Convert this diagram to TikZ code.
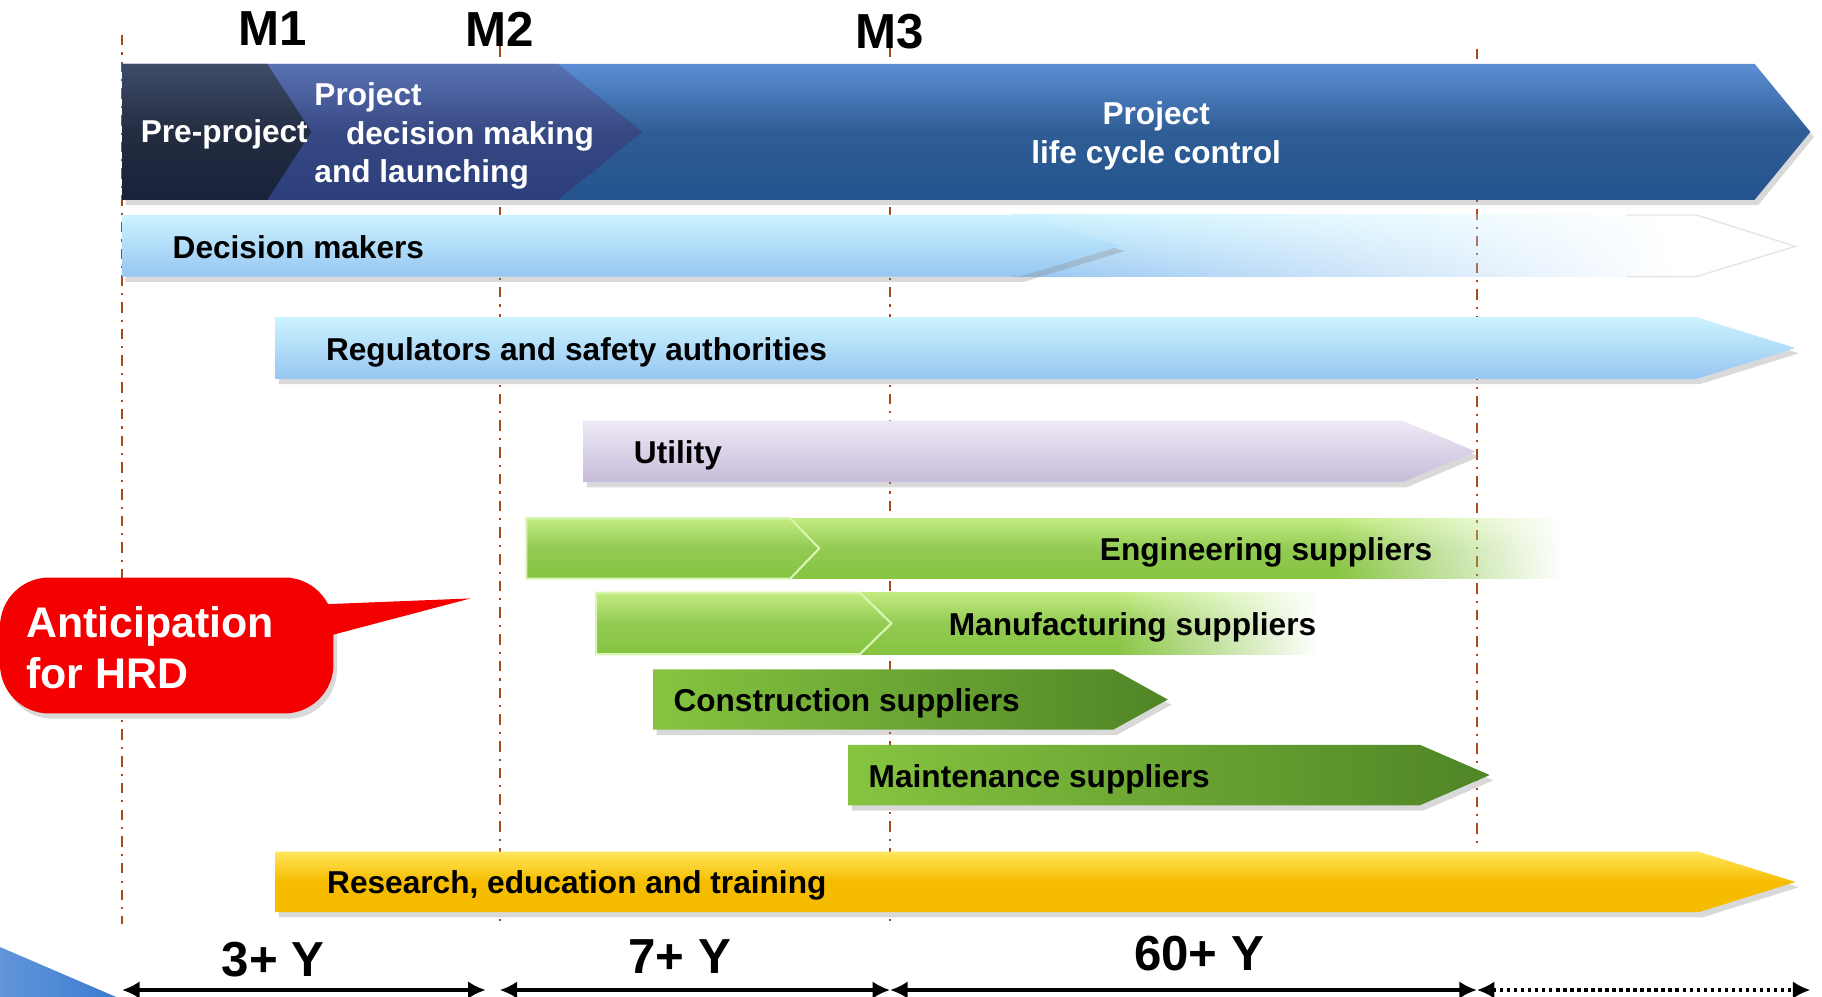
\documentclass[tikz,border=0pt]{standalone}
\usepackage{fontspec}
\setmainfont{Liberation Sans}
\usetikzlibrary{shadows,fadings,arrows.meta}
\definecolor{lifeblue}{HTML}{24548F}
\definecolor{lifetop}{HTML}{5B8ED4}
\definecolor{launchblue}{HTML}{2C3F7C}
\definecolor{launchtop}{HTML}{5A72B4}
\definecolor{prenavy}{HTML}{182238}
\definecolor{pretop}{HTML}{3E4C68}
\definecolor{skyblue}{HTML}{96C6F2}
\definecolor{skytop}{HTML}{CDF3FF}
\definecolor{lilac}{HTML}{C7BCDA}
\definecolor{lilactop}{HTML}{EEE9F6}
\definecolor{leaf}{HTML}{86C440}
\definecolor{leaftop}{HTML}{C2EC80}
\definecolor{forest}{HTML}{4F8526}
\definecolor{amber}{HTML}{F6BC00}
\definecolor{ambertop}{HTML}{FFE65A}
\definecolor{alarm}{HTML}{F40000}
\definecolor{rust}{HTML}{A84A20}
\definecolor{cornerblue}{HTML}{3B7BD0}
\tikzset{bar/.style = {drop shadow={opacity=0.3, shadow xshift=1pt, shadow yshift=-1.5pt}},
         skybar/.style = {bar, top color=skytop, bottom color=skyblue},
         leafbar/.style = {top color=leaftop, bottom color=leaf, middle color=leaf!90!white},
         darkleaf/.style = {bar, left color=leaf, right color=forest},
         mline/.style = {rust, line width=0.6pt, dash dot},
         milestone/.style = {font=\fontsize{14}{16}\selectfont\bfseries},
         barlabel/.style = {anchor=west, inner sep=0pt, font=\fontsize{9}{11}\selectfont\bfseries},
         phaselabel/.style = {text=white, font=\fontsize{9}{10.9}\selectfont\bfseries},
         span/.style = {line width=1pt, {Latex[length=5pt,width=5pt]}-{Latex[length=5pt,width=5pt]}}}
\newcommand{\chevronbar}[6]{\shade[#1] (#2,#5) -- (#3,#5) -- (#4,{(#5+#6)/2}) -- (#3,#6) -- (#2,#6) -- cycle;}

\begin{document}
\begin{tikzpicture}[x=0.1162mm, y=-0.1162mm]
    \useasboundingbox (0,0) rectangle (1568,858);

    % milestone lines
    \coordinate (l1t) at (105,30);   \coordinate (l1b) at (105,795);
    \coordinate (l2t) at (430,40);   \coordinate (l2b) at (430,795);
    \coordinate (l3t) at (766,40);   \coordinate (l3b) at (766,795);
    \coordinate (l4t) at (1271,42);  \coordinate (l4b) at (1271,730);
    \draw[mline](l1t)--(l1b);
    \draw[mline](l2t)--(l2b);
    \draw[mline](l3t)--(l3b);
    \draw[mline](l4t)--(l4b);

    \node[milestone] (m1) at (235,25) {M1};
    \node[milestone] (m2) at (430,25) {M2};
    \node[milestone] (m3) at (766,27) {M3};

    % phases
    \chevronbar{bar, top color=lifetop, bottom color=lifeblue, middle color=lifeblue!95!white}{105}{1510}{1558}{55}{172}
    \chevronbar{top color=launchtop, bottom color=launchblue, middle color=launchblue!95!white}{105}{480}{553}{55}{172}
    \chevronbar{top color=pretop, bottom color=prenavy, middle color=prenavy!95!white}{105}{230}{268}{55}{172}
    \node[phaselabel] (pre) at (193,116) {Pre-project};
    \node[phaselabel, anchor=west, inner sep=0pt, align=left] (launch) at (270,117) {Project\\\hspace{9pt}decision making\\and launching};
    \node[phaselabel, align=center] (life) at (995,117) {Project\\life cycle control};

    % actors
    \shade[top color=skytop, bottom color=skyblue, path fading=east] (870,185) rectangle (1440,238);
    \draw[black!10] (1400,185) -- (1460,185) -- (1545,212) -- (1460,238) -- (1400,238);
    \chevronbar{skybar}{105}{878}{965}{185}{238}
    \node[barlabel] (dm) at (148,213) {Decision makers};

    \chevronbar{skybar}{237}{1460}{1545}{273}{326}
    \node[barlabel] (reg) at (280,303) {Regulators and safety authorities};

    \chevronbar{bar, top color=lilactop, bottom color=lilac}{502}{1207}{1270}{362}{415}
    \node[barlabel] (util) at (545,392) {Utility};

    \shade[leafbar] (453,446) rectangle (1151,498);
    \shade[leafbar, path fading=east] (1150,446) rectangle (1345,498);
    \chevronbar{leafbar, draw=leaftop!60!white, line width=0.6pt}{453}{680}{705}{446}{498}
    \node[barlabel] (eng) at (946,475) {Engineering suppliers};

    \shade[leafbar] (513,510) rectangle (961,563);
    \shade[leafbar, path fading=east] (960,510) rectangle (1135,563);
    \chevronbar{leafbar, draw=leaftop!60!white, line width=0.6pt}{513}{740}{767}{510}{563}
    \node[barlabel] (man) at (816,540) {Manufacturing suppliers};

    \chevronbar{darkleaf}{562}{958}{1005}{576}{628}
    \node[barlabel] (con) at (579,605) {Construction suppliers};

    \chevronbar{darkleaf}{730}{1222}{1282}{641}{693}
    \node[barlabel] (mai) at (747,671) {Maintenance suppliers};

    \chevronbar{bar, top color=ambertop, bottom color=amber, middle color=amber}{237}{1462}{1545}{733}{785}
    \node[barlabel] (res) at (281,762) {Research, education and training};

    % callout
    \fill[alarm, drop shadow={opacity=0.3, shadow xshift=1pt, shadow yshift=-1.5pt}, rounded corners=14] (0,497) rectangle (287,614);
    \fill[alarm] (280,520) -- (405,515) -- (280,548) -- cycle;
    \node[anchor=west, inner sep=0pt, align=left, text=white, font=\fontsize{12.2}{14.5}\selectfont\bfseries] (hrd) at (22,557) {Anticipation\\for HRD};

    % durations
    \coordinate (s0) at (105,852);  \coordinate (s1) at (418,852);
    \coordinate (s2) at (430,852);  \coordinate (s3) at (766,852);
    \coordinate (s4) at (1271,852); \coordinate (s5) at (1558,852);
    \draw[span](s0)--(s1);
    \draw[span](s2)--(s3);
    \draw[span](s3)--(s4);
    \draw[span, densely dotted](s4)--(s5);
    \node[milestone] (y3) at (235,826) {3+ Y};
    \node[milestone] (y7) at (585,823) {7+ Y};
    \node[milestone] (y60) at (1032,821) {60+ Y};

    \shade[left color=cornerblue!80!white, right color=cornerblue] (0,815) -- (100,858) -- (0,858) -- cycle;
\end{tikzpicture}
\end{document}
